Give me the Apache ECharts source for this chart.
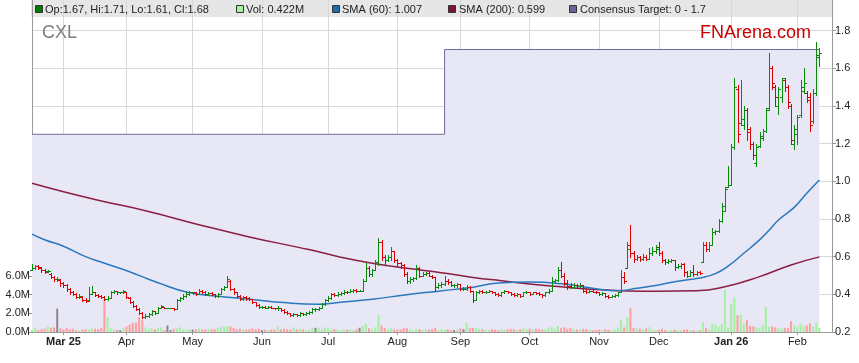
<!DOCTYPE html>
<html><head><meta charset="utf-8">
<script src="https://cdn.jsdelivr.net/npm/echarts@6/dist/echarts.min.js"></script>
<style>html,body{margin:0;padding:0;background:#fff}#c{width:859px;height:363px}</style>
</head><body><div id="c"></div>
<script>
// ---- data ----
const ticker = 'CXL';
const slotCount = 255; // trading-day slots on the x axis (last 4 empty)
const monthTickIdx = [10,30,51,73,94,116,136,158,180,199,222,243];
const monthTickLabels = ['Mar 25','Apr','May','Jun','Jul','Aug','Sep','Oct','Nov','Dec','Jan 26','Feb'];
const priceTicks = [0.2,0.4,0.6,0.8,1.0,1.2,1.4,1.6,1.8];
const volTicks = [0,2,4,6];

const opens = [
.53,.54,.55,.54,.53,.525,.51,.49,.48,.475,
.46,.45,.43,.41,.40,.385,.385,.37,.37,.40,
.41,.395,.39,.385,.375,.38,.41,.42,.41,.41,
.41,.38,.36,.34,.32,.30,.28,.285,.295,.31,
.30,.33,.335,.33,.33,.33,.32,.37,.38,.39,
.40,.41,.41,.40,.42,.415,.40,.405,.40,.39,
.40,.43,.44,.47,.43,.41,.39,.375,.385,.38,
.375,.36,.345,.335,.335,.33,.335,.33,.325,.33,
.315,.305,.30,.29,.295,.29,.30,.295,.30,.305,
.32,.32,.33,.35,.37,.38,.40,.395,.40,.405,
.415,.41,.42,.425,.42,.42,.47,.54,.51,.53,
.57,.68,.60,.58,.60,.63,.58,.565,.555,.51,
.47,.48,.485,.54,.50,.51,.515,.50,.49,.44,
.45,.455,.47,.465,.45,.45,.455,.43,.43,.44,
.42,.37,.41,.42,.41,.415,.42,.41,.40,.395,
.41,.42,.41,.40,.395,.40,.39,.41,.415,.40,
.41,.405,.40,.395,.41,.42,.47,.475,.53,.50,
.46,.445,.44,.45,.445,.45,.42,.41,.42,.415,
.41,.40,.405,.39,.385,.39,.395,.41,.49,.54,
.66,.62,.59,.60,.585,.60,.59,.62,.63,.65,
.62,.58,.57,.575,.58,.545,.55,.56,.52,.50,
.52,.51,.52,.57,.66,.64,.66,.73,.735,.79,
.84,.97,.98,1.18,1.49,1.31,1.30,1.38,1.28,1.20,
1.10,1.19,1.23,1.27,1.39,1.60,1.50,1.40,1.45,1.54,
1.50,1.40,1.20,1.25,1.35,1.48,1.47,1.45,1.32,1.47,1.67];
const highs = [
.56,.555,.555,.545,.535,.53,.515,.50,.49,.48,
.465,.455,.435,.42,.405,.40,.39,.38,.44,.445,
.415,.40,.395,.39,.39,.42,.425,.42,.415,.425,
.415,.385,.365,.345,.325,.305,.295,.30,.315,.31,
.335,.345,.335,.33,.33,.33,.375,.385,.40,.41,
.42,.415,.415,.43,.425,.42,.41,.41,.40,.405,
.435,.445,.495,.475,.435,.415,.395,.39,.39,.385,
.375,.36,.35,.34,.34,.34,.34,.33,.34,.33,
.32,.31,.30,.30,.295,.305,.30,.305,.31,.325,
.325,.335,.355,.375,.39,.405,.405,.41,.415,.425,
.42,.43,.43,.43,.425,.48,.565,.55,.535,.58,
.70,.69,.61,.61,.65,.63,.585,.57,.56,.52,
.49,.49,.555,.545,.52,.52,.52,.505,.49,.46,
.465,.50,.48,.47,.455,.46,.455,.44,.45,.445,
.42,.42,.425,.425,.42,.425,.42,.415,.405,.415,
.425,.42,.415,.405,.405,.40,.415,.42,.415,.415,
.41,.41,.40,.415,.43,.49,.48,.545,.57,.515,
.475,.46,.46,.455,.46,.45,.43,.43,.425,.42,
.415,.41,.405,.395,.395,.40,.415,.53,.52,.68,
.77,.63,.61,.605,.615,.61,.645,.65,.66,.68,
.63,.59,.585,.59,.58,.56,.565,.565,.525,.53,
.555,.525,.525,.68,.68,.68,.75,.74,.80,.885,
.97,1.08,1.20,1.55,1.51,1.54,1.40,1.39,1.29,1.21,
1.20,1.26,1.28,1.39,1.68,1.61,1.51,1.50,1.55,1.55,
1.51,1.41,1.30,1.35,1.54,1.60,1.48,1.47,1.49,1.74,1.71];
const lows = [
.53,.535,.535,.52,.515,.52,.485,.47,.47,.445,
.44,.42,.40,.395,.38,.38,.365,.36,.365,.40,
.39,.385,.38,.37,.37,.38,.405,.40,.405,.405,
.38,.355,.335,.315,.295,.275,.275,.28,.29,.295,
.30,.325,.33,.33,.33,.315,.32,.365,.375,.385,
.395,.40,.395,.40,.405,.395,.395,.395,.385,.385,
.40,.425,.44,.425,.40,.385,.37,.37,.37,.37,
.355,.34,.33,.33,.325,.33,.325,.32,.315,.31,
.30,.295,.285,.285,.285,.285,.29,.29,.295,.30,
.31,.315,.325,.345,.365,.375,.39,.39,.395,.40,
.405,.41,.415,.415,.42,.42,.47,.50,.50,.53,
.555,.58,.56,.575,.58,.57,.55,.54,.50,.46,
.46,.47,.48,.49,.495,.505,.495,.485,.42,.435,
.44,.45,.455,.445,.44,.44,.425,.425,.425,.415,
.36,.37,.405,.405,.405,.41,.405,.395,.39,.39,
.405,.405,.395,.39,.39,.385,.39,.405,.395,.40,
.40,.395,.385,.39,.405,.42,.46,.47,.49,.45,
.43,.435,.435,.44,.44,.415,.405,.41,.41,.405,
.395,.395,.385,.38,.385,.385,.39,.41,.46,.54,
.60,.57,.58,.575,.58,.58,.585,.61,.62,.61,
.57,.56,.565,.57,.53,.54,.54,.50,.49,.50,
.50,.505,.51,.57,.63,.63,.66,.72,.73,.785,
.84,.97,.98,1.17,1.21,1.30,1.28,1.22,1.17,1.12,
1.08,1.18,1.22,1.26,1.38,1.49,1.40,1.36,1.42,1.48,
1.39,1.20,1.17,1.20,1.34,1.47,1.42,1.27,1.31,1.46,1.61];
const closes = [
.54,.55,.545,.53,.52,.525,.49,.48,.48,.46,
.45,.43,.41,.40,.385,.39,.37,.365,.40,.41,
.395,.39,.385,.375,.38,.41,.42,.41,.41,.42,
.385,.36,.34,.32,.30,.28,.285,.295,.31,.30,
.33,.34,.33,.33,.33,.32,.37,.38,.39,.40,
.41,.41,.40,.42,.415,.40,.405,.40,.39,.40,
.43,.44,.48,.43,.41,.39,.375,.385,.38,.375,
.36,.345,.335,.335,.33,.335,.33,.325,.33,.315,
.305,.30,.29,.295,.29,.30,.295,.30,.305,.32,
.32,.33,.35,.37,.38,.40,.395,.40,.405,.415,
.41,.42,.425,.42,.42,.47,.54,.51,.53,.57,
.68,.60,.58,.60,.63,.58,.565,.555,.51,.47,
.48,.485,.54,.50,.51,.515,.50,.49,.44,.45,
.455,.47,.465,.45,.45,.455,.43,.43,.44,.42,
.37,.41,.42,.41,.415,.42,.41,.40,.395,.41,
.42,.41,.40,.395,.40,.39,.41,.415,.40,.41,
.405,.40,.395,.41,.42,.47,.475,.53,.50,.46,
.445,.44,.45,.445,.45,.42,.41,.42,.415,.41,
.40,.405,.39,.385,.39,.395,.41,.49,.47,.64,
.62,.59,.60,.585,.60,.59,.62,.63,.64,.62,
.58,.57,.575,.58,.545,.55,.56,.52,.50,.52,
.51,.52,.515,.66,.64,.66,.73,.735,.79,.87,
.96,.98,1.18,1.50,1.25,1.33,1.38,1.26,1.20,1.14,
1.18,1.24,1.27,1.38,1.60,1.52,1.45,1.49,1.55,1.50,
1.42,1.22,1.28,1.34,1.50,1.52,1.43,1.30,1.47,1.66,1.68];
const volumesM = [
0.25,0.45,0.2,0.3,0.35,0.6,0.45,0.5,2.5,0.4,
0.3,0.45,0.3,0.35,0.2,0.2,0.25,0.3,0.3,0.4,
0.35,0.3,0.45,3.5,1.6,0.4,0.3,0.25,0.2,0.45,
0.6,0.8,1.0,1.0,1.6,1.3,0.5,0.3,0.4,0.3,
0.45,0.5,0.2,0.7,0.2,0.35,0.4,0.5,0.3,0.25,
0.3,0.25,0.3,0.4,0.3,0.25,0.35,0.3,0.3,0.45,
0.55,0.6,0.65,0.6,0.45,0.3,0.35,0.3,0.25,0.3,
0.4,0.3,0.35,0.2,0.25,0.2,0.3,0.25,0.6,0.3,
0.35,0.3,0.25,0.5,0.3,0.35,0.3,0.2,0.25,0.45,
0.45,0.4,0.3,0.5,0.4,0.3,0.3,0.25,0.2,0.3,
0.25,0.3,0.2,0.3,0.45,0.65,0.9,0.4,0.3,0.5,
1.8,0.7,0.45,0.3,0.4,0.3,0.25,0.3,0.4,0.45,
0.3,0.2,0.35,0.3,0.2,0.3,0.25,0.35,0.45,0.2,
0.3,0.25,0.3,0.2,0.2,0.25,0.4,0.3,1.0,0.4,
0.45,0.4,0.35,0.3,0.25,0.2,0.3,0.25,0.2,0.3,
0.25,0.3,0.35,0.3,0.25,0.3,0.4,0.3,0.35,0.3,
0.35,0.3,0.25,0.3,0.45,0.55,0.35,0.65,0.45,0.5,
0.35,0.45,0.3,0.25,0.3,0.35,0.3,0.25,0.2,0.2,
0.25,0.2,0.3,0.25,0.2,0.3,0.45,1.3,0.5,1.6,
2.55,0.45,0.4,0.35,0.3,0.4,0.5,0.3,0.2,0.25,
0.35,0.2,0.15,0.2,0.25,0.15,0.2,0.25,0.3,0.2,
0.2,0.15,0.2,1.07,0.4,0.3,0.9,0.8,0.6,0.85,
4.46,0.5,2.96,3.67,1.8,1.85,0.9,1.28,0.65,0.6,
0.5,0.4,0.75,2.67,0.55,0.6,0.5,0.45,0.35,0.45,
0.4,1.17,0.7,0.6,0.9,0.65,0.7,0.9,0.6,1.0,0.422];
const sma60 = [[0,0.72],[4,0.69],[10,0.655],[17,0.60],[24,0.56],[31,0.52],[37,0.48],[42,0.45],[49,0.412],[59,0.39],[70,0.373],[80,0.356],[91,0.348],[98,0.358],[108,0.374],[119,0.398],[129,0.417],[140,0.438],[148,0.46],[158,0.465],[168,0.456],[179,0.43],[186,0.419],[192,0.432],[198,0.447],[205,0.47],[212,0.487],[217,0.51],[221,0.55],[226,0.618],[231,0.689],[234,0.74],[237,0.795],[242,0.862],[246,0.937],[250,1.007]];
const sma200 = [[0,0.99],[10,0.945],[21,0.90],[37,0.84],[53,0.77],[69,0.705],[85,0.648],[91,0.626],[98,0.597],[108,0.565],[119,0.538],[130,0.515],[140,0.49],[149,0.472],[158,0.455],[168,0.44],[179,0.426],[189,0.418],[198,0.417],[211,0.419],[220,0.44],[231,0.494],[241,0.556],[250,0.599]];
const consensusTarget = [[0,1.25],[131,1.7],[250,1.7]];

// ---- build ----
const categories = Array.from({length: slotCount}, (_, i) => String(i));
const tickLabelAt = {};
monthTickIdx.forEach((ix, k) => { tickLabelAt[ix] = monthTickLabels[k]; });
const isTick = (index) => tickLabelAt[index] !== undefined;

const dir = closes.map((c, i) => {
  const ref = i === 0 ? opens[0] : closes[i - 1];
  return c > ref ? 1 : (c < ref ? -1 : 0);
});
const ohlcData = closes.map((c, i) => [i, opens[i], highs[i], lows[i], c, dir[i]]);
const volData = volumesM.map((v, i) => ({
  value: v,
  itemStyle: { color: dir[i] > 0 ? '#a4f0a0' : (dir[i] < 0 ? '#ff9e9e' : '#8a8a8a') }
}));

const UP = '#0a8a0a', DOWN = '#dd0000';
function renderOHLC(params, api) {
  const i = api.value(0);
  const pO = api.coord([i, api.value(1)]);
  const pH = api.coord([i, api.value(2)]);
  const pL = api.coord([i, api.value(3)]);
  const pC = api.coord([i, api.value(4)]);
  const col = api.value(5) >= 0 ? UP : DOWN;
  const x = Math.round(pO[0]) + 0.5;
  const yO = Math.round(pO[1]) + 0.5, yC = Math.round(pC[1]) + 0.5;
  const yH = Math.round(pH[1]), yL = Math.round(pL[1]) + 1;
  const st = { stroke: col, lineWidth: 1 };
  return { type: 'group', children: [
    { type: 'line', shape: { x1: x, y1: yH, x2: x, y2: yL }, style: st },
    { type: 'line', shape: { x1: x - 2.5, y1: yO, x2: x, y2: yO }, style: st },
    { type: 'line', shape: { x1: x, y1: yC, x2: x + 2.5, y2: yC }, style: st }
  ]};
}

const last = closes.length - 1;
const legendItems = [
  { x: 35, tx: 45, fill: '#007a00', text: 'Op:' + opens[last].toFixed(2) + ', Hi:' + highs[last].toFixed(2) + ', Lo:' + lows[last].toFixed(2) + ', Cl:' + closes[last].toFixed(2) },
  { x: 236, tx: 246, fill: '#a4f0a0', text: 'Vol: ' + volumesM[last].toFixed(3) + 'M' },
  { x: 332, tx: 342, fill: '#1f6aa8', text: 'SMA (60): ' + sma60[sma60.length - 1][1].toFixed(3) },
  { x: 448, tx: 459, fill: '#7d1432', text: 'SMA (200): ' + sma200[sma200.length - 1][1].toFixed(3) },
  { x: 569, tx: 580, fill: '#66669a', text: 'Consensus Target: 0 - ' + consensusTarget[consensusTarget.length - 1][1] }
];
const FONT = '"Liberation Sans", Arial, sans-serif';
const graphics = [
  { type: 'rect', z: -5, shape: { x: 31, y: 0, width: 801, height: 17 }, style: { fill: '#e6e6e6' } },
  { type: 'text', z: 10, x: 42, y: 33, style: { text: ticker, fill: '#7f7f7f', font: '18px ' + FONT, verticalAlign: 'middle' } },
  { type: 'text', z: 10, x: 811, y: 33, style: { text: 'FNArena.com', fill: '#cc0000', font: '18px ' + FONT, align: 'right', verticalAlign: 'middle' } }
];
legendItems.forEach(it => {
  graphics.push({ type: 'rect', z: 10, shape: { x: it.x + 0.5, y: 5.5, width: 7, height: 7 }, style: { fill: it.fill, stroke: '#333', lineWidth: 1 } });
  graphics.push({ type: 'text', z: 10, x: it.tx, y: 9.5, style: { text: it.text, fill: '#222', font: '11px ' + FONT, verticalAlign: 'middle' } });
});

const chart = echarts.init(document.getElementById('c'), null, { renderer: 'canvas' });
chart.setOption({
  animation: false,
  backgroundColor: '#fff',
  grid: { left: 32, right: 27, top: 0, bottom: 31, containLabel: false },
  graphic: { elements: graphics },
  xAxis: {
    type: 'category', data: categories, boundaryGap: false,
    axisLine: { lineStyle: { color: '#999' } },
    axisTick: { interval: isTick, length: 3, lineStyle: { color: '#999' } },
    axisLabel: {
      interval: isTick, margin: 4, color: '#222', fontSize: 11, fontFamily: FONT,
      formatter: (v, idx) => { const t = tickLabelAt[+v]; if (!t) return ''; return t.indexOf(' ') > 0 ? '{b|' + t + '}' : t; },
      rich: { b: { fontWeight: 'bold', fontSize: 11, fontFamily: FONT, color: '#222' } }
    },
    splitLine: { show: true, interval: isTick, lineStyle: { color: '#d8d8d8', width: 1 } }
  },
  yAxis: [
    { type: 'value', position: 'left', min: 0, max: 35.5, interval: 2,
      axisLine: { show: true, lineStyle: { color: '#999' } },
      axisTick: { show: true, length: 4, customValues: volTicks, lineStyle: { color: '#999' } },
      axisLabel: { customValues: volTicks, margin: 2, color: '#222', fontSize: 11, fontFamily: FONT,
        formatter: v => v <= 6.01 ? v.toFixed(1) + 'M' : '' },
      splitLine: { show: false } },
    { type: 'value', position: 'right', min: 0.2, max: 1.963, interval: 0.2,
      axisLine: { show: true, lineStyle: { color: '#999' } },
      axisTick: { show: true, length: 4, customValues: priceTicks, lineStyle: { color: '#999' } },
      axisLabel: { customValues: priceTicks, margin: 3, color: '#222', fontSize: 11, fontFamily: FONT,
        formatter: v => v <= 1.81 ? v.toFixed(1) : '' },
      splitLine: { show: true, lineStyle: { color: '#d8d8d8', width: 1 } } }
  ],
  series: [
    { name: 'Consensus Target', type: 'line', yAxisIndex: 1, step: 'end', data: consensusTarget,
      showSymbol: false, z: 1, lineStyle: { color: '#6c6c9c', width: 1 },
      areaStyle: { color: '#e8e7f6', opacity: 1 } },
    { name: 'Vol', type: 'bar', yAxisIndex: 0, data: volData, barWidth: 2, z: 2 },
    { name: 'SMA (200)', type: 'line', yAxisIndex: 1, data: sma200, smooth: true, showSymbol: false, z: 3,
      lineStyle: { color: '#8a1f42', width: 1.5 } },
    { name: 'SMA (60)', type: 'line', yAxisIndex: 1, data: sma60, smooth: true, showSymbol: false, z: 3,
      lineStyle: { color: '#2a78bd', width: 1.5 } },
    { name: 'OHLC', type: 'custom', yAxisIndex: 1, data: ohlcData, renderItem: renderOHLC, z: 4,
      encode: { x: 0, y: [1, 2, 3, 4] } }
  ]
});
</script></body></html>
